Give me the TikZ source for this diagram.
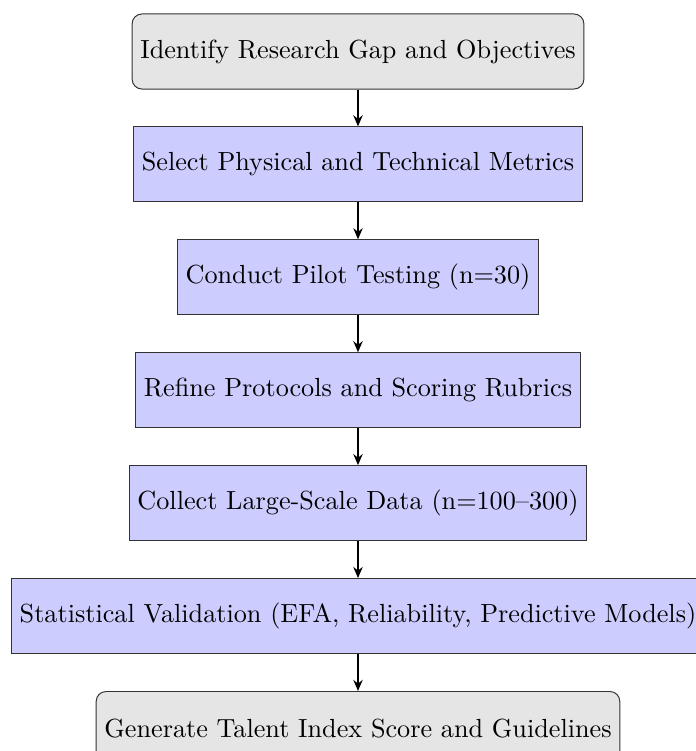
\documentclass[tikz,border=0pt]{standalone}
\usepackage{tikz}
\usetikzlibrary{arrows.meta}
\usetikzlibrary{positioning}

\begin{document}
\begin{tikzpicture}[x=0.4065pt, y=0.4065pt, node distance=15pt,
		font=\fontsize{10.65pt}{12.8pt}\selectfont,
		startstop/.style={rectangle, rounded corners, draw=black!80, fill=gray!20, minimum height=30.5pt, text centered},
		process/.style={rectangle, draw=black!80, fill=blue!20, minimum height=30.5pt, text centered},
		arrow/.style={thick, -{Stealth[length=4.5pt, width=3.8pt]}}]
		\useasboundingbox (0,0) rectangle (696,-751);

		% Research workflow steps
		\node (gap) at (358,-51.5) [startstop] {Identify Research Gap and Objectives};
		\node (metrics) [process, below=of gap] {Select Physical and Technical Metrics};
		\node (pilot) [process, below=of metrics] {Conduct Pilot Testing (n=30)};
		\node (refine) [process, below=of pilot] {Refine Protocols and Scoring Rubrics};
		\node (collect) [process, below=of refine] {Collect Large-Scale Data (n=100--300)};
		\node (validate) [process, below=of collect] {Statistical Validation (EFA, Reliability, Predictive Models)};
		\node (index) [startstop, below=of validate] {Generate Talent Index Score and Guidelines};

		% Connectors
		\draw [arrow] (gap) -- (metrics);
		\draw [arrow] (metrics) -- (pilot);
		\draw [arrow] (pilot) -- (refine);
		\draw [arrow] (refine) -- (collect);
		\draw [arrow] (collect) -- (validate);
		\draw [arrow] (validate) -- (index);
	\end{tikzpicture}
\end{document}
